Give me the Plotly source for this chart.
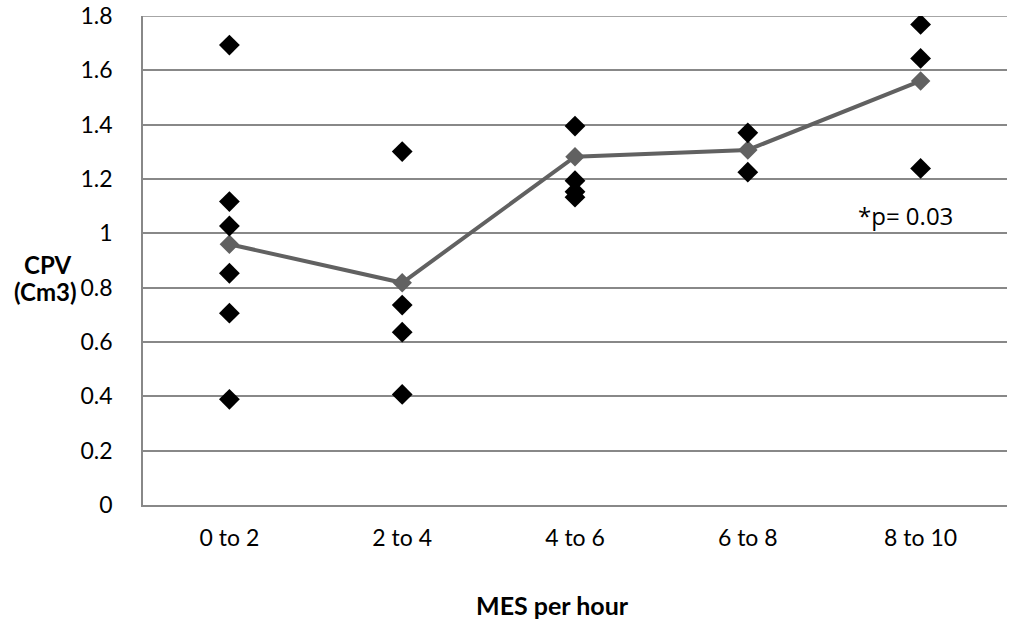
import plotly.graph_objects as go

categories = ["0 to 2", "2 to 4", "4 to 6", "6 to 8", "8 to 10"]
pts_0_2 = [1.693, 1.117, 1.027, 0.853, 0.706, 0.389]
pts_2_4 = [1.301, 0.736, 0.636, 0.407]
pts_4_6 = [1.395, 1.194, 1.153, 1.133]
pts_6_8 = [1.370, 1.225]
pts_8_10 = [1.769, 1.644, 1.239]
means = [0.960, 0.818, 1.282, 1.307, 1.561]
y_ticks = [0, 0.2, 0.4, 0.6, 0.8, 1.0, 1.2, 1.4, 1.6, 1.8]
y_tick_text = ["0", "0.2", "0.4", "0.6", "0.8", "1", "1.2", "1.4", "1.6", "1.8"]

groups = [pts_0_2, pts_2_4, pts_4_6, pts_6_8, pts_8_10]
px, py = [], []
for cat, vals in zip(categories, groups):
    for v in vals:
        px.append(cat)
        py.append(v)

fig = go.Figure()
fig.add_trace(go.Scatter(
    x=categories, y=means, mode="lines+markers",
    line=dict(color="#616161", width=4),
    marker=dict(symbol="diamond", size=15, color="#616161"),
    showlegend=False, hoverinfo="skip"))
fig.add_trace(go.Scatter(
    x=px, y=py, mode="markers",
    marker=dict(symbol="diamond", size=16, color="#000000"),
    showlegend=False))

grid = "#888888"
fig.update_layout(
    width=1011, height=619,
    margin=dict(l=143, r=4, t=16, b=114),
    plot_bgcolor="white", paper_bgcolor="white",
    font=dict(family="Lato, Open Sans, sans-serif", size=23, color="#000000"),
    xaxis=dict(
        type="category", categoryorder="array", categoryarray=categories,
        range=[-0.5, 4.5], showgrid=False, showline=True, linecolor=grid,
        linewidth=1.5, ticks="", ticklabelstandoff=12, automargin=False,
        tickfont=dict(size=23)),
    yaxis=dict(
        range=[0, 1.8], tickvals=y_ticks, ticktext=y_tick_text,
        showgrid=True, gridcolor=grid, gridwidth=1.5,
        showline=True, linecolor=grid, linewidth=1.5, zeroline=False,
        ticks="", ticklabelstandoff=24, ticklabeloverflow="allow",
        automargin=False, tickfont=dict(size=23)),
)

# top gridline at the upper range limit
fig.add_shape(type="line", xref="paper", yref="y", x0=0, x1=1,
              y0=y_ticks[-1], y1=y_ticks[-1], line=dict(color=grid, width=1.5),
              layer="below")

fig.add_annotation(text="<b>CPV</b>", xref="paper", yref="paper",
                   x=-0.1105, y=0.4908, xanchor="center", yanchor="middle",
                   showarrow=False, font=dict(size=24))
fig.add_annotation(text="<b>(Cm3)</b>", xref="paper", yref="paper",
                   x=-0.1125, y=0.4356, xanchor="center", yanchor="middle",
                   showarrow=False, font=dict(size=24))
fig.add_annotation(text="<b>MES per hour</b>", xref="paper", yref="paper",
                   x=0.474, y=-0.2045, xanchor="center", yanchor="middle",
                   showarrow=False, font=dict(size=25))
fig.add_annotation(text="*p= 0.03", xref="paper", yref="paper",
                   x=0.882, y=0.593, xanchor="center", yanchor="middle",
                   showarrow=False, font=dict(family="Open Sans, sans-serif", size=24))

fig.write_html("out.html", config={"displayModeBar": False},
               post_script="document.body.style.margin='0';")
